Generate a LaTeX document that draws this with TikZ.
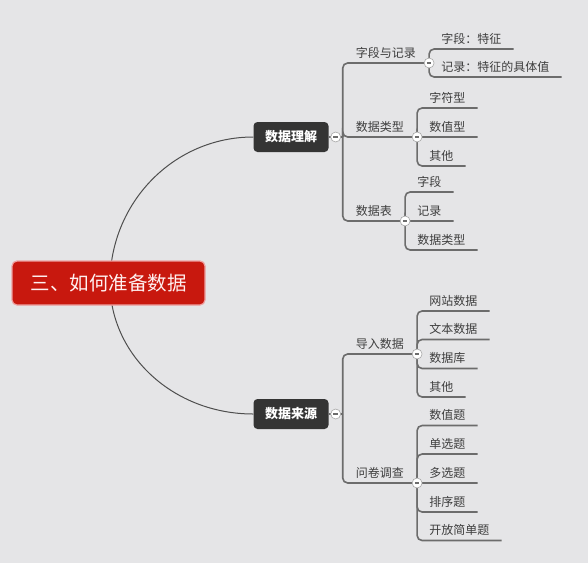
\documentclass[tikz,border=0pt]{standalone}
\usepackage{fontspec}
\setmainfont{Noto Sans CJK SC}
\usetikzlibrary{positioning, calc}
\definecolor{bgcol}{RGB}{229,229,231}
\definecolor{rootred}{RGB}{200,24,14}
\definecolor{rootglow}{RGB}{238,160,160}
\definecolor{darkbox}{RGB}{52,52,52}
\definecolor{linecol}{RGB}{108,108,108}
\definecolor{arccol}{RGB}{78,78,78}
\definecolor{textcol}{RGB}{62,62,62}

\begin{document}
\begin{tikzpicture}[x=1pt, y=-1pt,
        root/.style={fill=rootred, draw=rootglow, line width=1.2pt, rounded corners=5pt, minimum width=193pt, minimum height=44pt, text=white!94!red, font=\fontsize{19.5}{19.5}\selectfont},
        topic/.style={fill=darkbox, rounded corners=4pt, minimum width=75pt, minimum height=30pt, inner sep=0pt, text=white, font=\fontsize{13}{13}\selectfont\bfseries},
        sub/.style={anchor=south west, inner xsep=13pt, inner ysep=3pt, text height=9.5pt, text depth=2.5pt, text=textcol, font=\fontsize{12}{12}\selectfont},
        leaf/.style={sub, inner xsep=12pt},
        branch/.style={draw=linecol, line width=1.6pt, rounded corners=5pt},
        arcline/.style={draw=arccol, line width=1pt},
        knob/.style={circle, draw=linecol!60, fill=white, line width=0.6pt, minimum size=10pt, inner sep=0pt,
            path picture={\draw[line width=1.3pt, linecol] ([xshift=-2.3pt]path picture bounding box.center) -- ([xshift=2.3pt]path picture bounding box.center);}}
    ]
        \fill[bgcol] (0,0) rectangle (588,563);
        \useasboundingbox (0,0) rectangle (588,563);

        % main topics
        \node[topic] (und) at (291,137) {数据理解};
        \node[topic] (src) at (291,414) {数据来源};

        % arcs from the root
        \coordinate (rj) at (110,283);
        \draw[arcline] (rj) .. controls +(0,-80) and +(-80,0) .. (und.west);
        \draw[arcline] (rj) .. controls +(0,72) and +(-80,0) .. (src.west);

        \node[root] (root) at (108.5,283) {三、如何准备数据};

        % first topic
        \coordinate (h1) at ([xshift=14pt]und.east);
        \node[sub] (s1) at ([yshift=74pt]h1) {字段与记录};
        \node[sub] (s2) at (h1) {数据类型};
        \node[sub] (s3) at ([yshift=-84pt]h1) {数据表};
        \draw[branch] (und.east) -- (h1);
        \draw[branch] (h1) |- (s1.south east);
        \draw[branch] (h1) |- (s2.south east);
        \draw[branch] (h1) |- (s3.south east);

        \node[leaf] (a1) at ([yshift=14pt]s1.south east) {字段：特征};
        \node[leaf] (a2) at ([yshift=-14pt]s1.south east) {记录：特征的具体值};
        \node[leaf] (b1) at ([yshift=29pt]s2.south east) {字符型};
        \node[leaf] (b2) at (s2.south east) {数值型};
        \node[leaf] (b3) at ([yshift=-29pt]s2.south east) {其他};
        \node[leaf] (c1) at ([yshift=29pt]s3.south east) {字段};
        \node[leaf] (c2) at (s3.south east) {记录};
        \node[leaf] (c3) at ([yshift=-29pt]s3.south east) {数据类型};
        \foreach \p/\c in {s1/a1, s1/a2, s2/b1, s2/b2, s2/b3, s3/c1, s3/c2, s3/c3}
            \draw[branch] (\p.south east) |- (\c.south east);

        % second topic
        \coordinate (h2) at ([xshift=14pt]src.east);
        \node[sub] (t1) at ([yshift=60pt]h2) {导入数据};
        \node[sub] (t2) at ([yshift=-69pt]h2) {问卷调查};
        \draw[branch] (src.east) -- (h2);
        \draw[branch] (h2) |- (t1.south east);
        \draw[branch] (h2) |- (t2.south east);

        \node[leaf] (d1) at ([yshift=43pt]t1.south east) {网站数据};
        \node[leaf] (d2) at ([yshift=14.5pt]t1.south east) {文本数据};
        \node[leaf] (d3) at ([yshift=-14.5pt]t1.south east) {数据库};
        \node[leaf] (d4) at ([yshift=-43pt]t1.south east) {其他};
        \node[leaf] (e1) at ([yshift=57.5pt]t2.south east) {数值题};
        \node[leaf] (e2) at ([yshift=29pt]t2.south east) {单选题};
        \node[leaf] (e3) at (t2.south east) {多选题};
        \node[leaf] (e4) at ([yshift=-29pt]t2.south east) {排序题};
        \node[leaf] (e5) at ([yshift=-57.5pt]t2.south east) {开放简单题};
        \foreach \p/\c in {t1/d1, t1/d2, t1/d3, t1/d4, t2/e1, t2/e2, t2/e3, t2/e4, t2/e5}
            \draw[branch] (\p.south east) |- (\c.south east);

        % collapse knobs
        \node[knob] (ku) at ([xshift=7pt]und.east) {};
        \node[knob] (ks) at ([xshift=7pt]src.east) {};
        \foreach \p in {s1, s2, s3, t1, t2}
            \node[knob] (k\p) at (\p.south east) {};
    \end{tikzpicture}
\end{document}
